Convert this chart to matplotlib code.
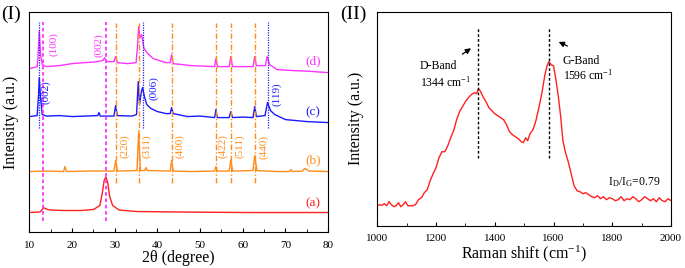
import matplotlib
matplotlib.use("Agg")
import matplotlib.pyplot as plt
from matplotlib.ticker import MultipleLocator

plt.rcParams['font.family'] = ['Liberation Serif', 'DejaVu Serif']
plt.rcParams['mathtext.fontset'] = 'custom'
plt.rcParams['mathtext.rm'] = 'Liberation Serif'
plt.rcParams['mathtext.it'] = 'Liberation Serif:italic'

# ---- XRD patterns (offset intensities, a.u.) ----
xa = [10, 12.5, 13.0, 13.3, 13.7, 14.3, 15, 18, 22, 25, 26.5, 27.1, 27.5, 27.9, 28.3, 28.8, 29.5, 31, 35, 45, 60, 80]
ya = [20, 20.5, 23, 25, 24, 23, 22.5, 22, 22, 23, 27, 40, 52, 55.5, 51, 36, 27, 22.5, 21, 20.5, 20, 20]

xb = [10, 14, 18.0, 18.3, 18.7, 24, 29.8, 30.2, 30.6, 35.2, 35.6, 36.0, 37.0, 37.3, 37.6, 43.0, 43.3, 43.7,
      48, 53.4, 53.7, 54.0, 56.8, 57.2, 57.6, 62.4, 62.8, 63.3, 68, 71.0, 71.3, 71.6, 74.0, 74.5, 75.0, 75.5, 80]
yb = [61, 61.5, 61, 66, 61, 61.5, 61.5, 72, 61.5, 62, 101, 62, 62, 65, 62, 61.5, 72, 61.5,
      61, 61.5, 66, 61.5, 61.5, 73, 61.5, 62, 77, 62, 61, 61, 63, 61, 61.5, 64, 63, 61.5, 61]

xc = [10, 11.8, 12.1, 12.3, 12.6, 13.0, 14, 17, 20, 23, 26, 26.3, 26.6, 29.8, 30.2, 30.6, 34, 35.1, 35.5,
      35.8, 36.2, 36.5, 37.0, 37.5, 38.5, 40, 42, 43.0, 43.3, 43.7, 47, 50, 53.4, 53.7, 54.0, 56.8, 57.2,
      57.6, 60, 62.4, 62.8, 63.2, 65.2, 65.8, 66.5, 67.5, 70, 75, 80]
yc = [116, 117, 135, 155, 135, 118, 116.5, 117, 116, 116.5, 117, 120, 116.5, 116.5, 127, 117, 116.5, 118, 151,
      128, 140, 145, 135, 128, 124, 121, 119, 119, 125, 119, 116, 116.5, 115, 123, 115, 115, 121,
      115, 115.5, 115, 126, 116, 117, 130, 122, 118, 113, 111, 110]

xd = [10, 11.8, 12.0, 12.3, 12.6, 13.0, 14, 17, 20, 23, 25, 27.2, 27.6, 28.0, 29.8, 30.2, 30.6, 33, 35.0,
      35.3, 35.6, 35.9, 36.3, 36.8, 37.5, 39, 42, 43.0, 43.3, 43.7, 48, 53.4, 53.7, 54.1, 56.8, 57.2, 57.6,
      62.4, 62.8, 63.2, 65.3, 65.7, 66.3, 68, 72, 75, 80]
yd = [164, 166, 175, 202, 178, 168, 166, 167, 169, 170, 170.5, 172, 175, 171, 171, 176, 170, 169, 170,
      185, 206, 195, 198, 185, 180, 174, 170, 170, 178, 169, 167, 166, 174, 166, 166, 176, 166,
      166, 176, 167, 167, 176, 168, 163, 162, 161.5, 160]

curve_names = ['(a)', '(b)', '(c)', '(d)']
curve_label_y = [29, 72, 120, 171]
colors = ['#ff2020', '#ff8c1a', '#1a1aff', '#ff33ff']

# reference lines
carbon_pos = [13.2, 27.9]          # magenta
carbon_hkl = ['(100)', '(002)']
bi_pos = [12.3, 36.7, 65.9]        # blue
bi_hkl = ['(002)', '(006)', '(119)']
spinel_pos = [30.2, 35.6, 43.3, 53.7, 57.2, 62.8]   # orange
spinel_hkl = ['(220)', '(311)', '(400)', '(422)', '(511)', '(440)']

# ---- Raman spectrum ----
raman_x = [1000, 1008, 1016, 1024, 1032, 1040, 1048, 1056, 1064, 1072, 1080, 1088, 1096, 1104, 1112, 1120,
           1130, 1140, 1150, 1160, 1170, 1180, 1190, 1200, 1210, 1220, 1230, 1240, 1250, 1260, 1270, 1280,
           1290, 1300, 1310, 1320, 1330, 1338, 1344, 1350, 1360, 1370, 1380, 1390, 1400, 1410, 1420, 1430,
           1440, 1450, 1460, 1470, 1480, 1490, 1497, 1505, 1512, 1520, 1530, 1540, 1550, 1560, 1570, 1578,
           1584, 1592, 1600, 1608, 1616, 1624, 1632, 1640, 1650, 1660, 1670, 1680, 1690, 1700, 1710, 1720,
           1730, 1740, 1750, 1760, 1770, 1780, 1790, 1800, 1810, 1820, 1830, 1840, 1850, 1860, 1870, 1880,
           1890, 1900, 1910, 1920, 1930, 1940, 1950, 1960, 1970, 1980, 1990, 2000]
raman_y = [20, 21, 20.5, 22, 20, 24, 21, 19, 20, 23, 19, 21, 24, 20, 20, 20,
           21, 26, 28, 33, 36, 45, 52, 58, 68, 74, 74, 80, 88, 95, 106, 114,
           119, 124, 128, 131, 133, 132, 137, 135, 129, 124, 118, 115, 112, 110, 108, 106,
           101, 94, 91, 89, 87, 84, 83, 88, 85, 92, 96, 105, 118, 132, 150, 160,
           164, 161, 160, 146, 130, 110, 85, 74, 64, 52, 40, 35, 34, 32, 33, 31,
           29, 28, 30, 27, 29, 26, 28, 27, 25, 26, 29, 25, 27, 26, 29, 27,
           24, 26, 29, 27, 25, 27, 24, 28, 25, 24, 27, 25]
band_pos = [1344, 1585]

fig = plt.figure(figsize=(6.85, 2.68), dpi=100)
ax1 = fig.add_axes([0.043, 0.1325, 0.436, 0.824])
ax2 = fig.add_axes([0.5508, 0.1578, 0.4288, 0.7985])

# left panel
for xs, ys, c in zip([xa, xb, xc, xd], [ya, yb, yc, yd], colors):
    ax1.plot(xs, ys, color=c, lw=1.0)
for name, ly, c in zip(curve_names, curve_label_y, colors):
    ax1.text(76.5, ly, name, color=c, fontsize=9.5, ha='center', va='center')

for p in carbon_pos:
    ax1.vlines(p, 11, 211, color='#ff33ff', lw=1.3, linestyles=(0, (2, 1.5)))
for p in bi_pos:
    ax1.vlines(p, 105, 211, color='#1a1aff', lw=0.9, linestyles=(0, (1, 1)))
for p in spinel_pos:
    ax1.vlines(p, 50, 210, color='#ff8c1a', lw=1.0, linestyles=(0, (4, 1.5, 1, 1.5)))

ax1.text(15.6, 189, carbon_hkl[0], color='#ff33ff', fontsize=8, rotation=90, ha='center', va='center')
ax1.text(26.3, 188, carbon_hkl[1], color='#ff33ff', fontsize=8, rotation=90, ha='center', va='center')
for p, lab, ly in zip([13.8, 39.2, 67.9], bi_hkl, [140.5, 145, 138.5]):
    ax1.text(p, ly, lab, color='#1a1aff', fontsize=8, rotation=90, ha='center', va='center')
for p, lab in zip([32.4, 37.5, 45.3, 55.4, 59.2, 64.8], spinel_hkl):
    ax1.text(p, 86, lab, color='#ff8c1a', fontsize=8, rotation=90, ha='center', va='center')

ax1.set_xlim(10, 80)
ax1.set_ylim(0, 221)
ax1.set_yticks([])
ax1.xaxis.set_major_locator(MultipleLocator(10))
ax1.xaxis.set_minor_locator(MultipleLocator(5))
ax1.tick_params(axis='x', which='both', direction='in', labelsize=8, pad=6)
ax1.tick_params(axis='x', which='major', length=3)
ax1.tick_params(axis='x', which='minor', length=2)
ax1.set_xlabel('2θ (degree)', fontsize=11.5, labelpad=0)
ax1.set_ylabel('Intensity (a.u.)', fontsize=11.5)
ax1.yaxis.set_label_coords(-0.034, 0.5)
fig.text(0.001, 0.945, '(I)', fontsize=14, ha='left', va='center')

# right panel
ax2.plot(raman_x, raman_y, color='#ff2020', lw=1.0)
for p in band_pos:
    ax2.vlines(p, 68, 199, color='black', lw=1.0, linestyles=(0, (2, 1.5)))
ax2.annotate('', xy=(1327, 179), xytext=(1282, 170),
             arrowprops=dict(arrowstyle='-|>', color='black', lw=0.9, mutation_scale=8))
ax2.annotate('', xy=(1609, 185), xytext=(1656, 178.5),
             arrowprops=dict(arrowstyle='-|>', color='black', lw=0.9, mutation_scale=8))
ax2.text(1145, 159.5, 'D-Band', fontsize=8.5, ha='left', va='center')
ax2.text(1145, 143.5, '1344 cm$^{\\mathrm{-1}}$', fontsize=8.5, ha='left', va='center')
ax2.text(1631, 165, 'G-Band', fontsize=8.5, ha='left', va='center')
ax2.text(1631, 150, '1596 cm$^{\\mathrm{-1}}$', fontsize=8.5, ha='left', va='center')
ax2.text(1785, 44, 'I$_{\\mathrm{D}}$/I$_{\\mathrm{G}}$=0.79', fontsize=8.5, ha='left', va='center')

ax2.set_xlim(1000, 2000)
ax2.set_ylim(0, 214)
ax2.set_yticks([])
ax2.xaxis.set_major_locator(MultipleLocator(200))
ax2.xaxis.set_minor_locator(MultipleLocator(100))
ax2.tick_params(axis='x', which='both', direction='in', labelsize=8, pad=6)
ax2.tick_params(axis='x', which='major', length=3)
ax2.tick_params(axis='x', which='minor', length=2)
ax2.set_xlabel('Raman shift (cm$^{\\mathrm{-1}}$)', fontsize=11.5, labelpad=0)
ax2.set_ylabel('Intensity (a.u.)', fontsize=11.5)
ax2.yaxis.set_label_coords(-0.045, 0.5)
fig.text(0.497, 0.945, '(II)', fontsize=14, ha='left', va='center')

fig.savefig('out.png', dpi=100)
